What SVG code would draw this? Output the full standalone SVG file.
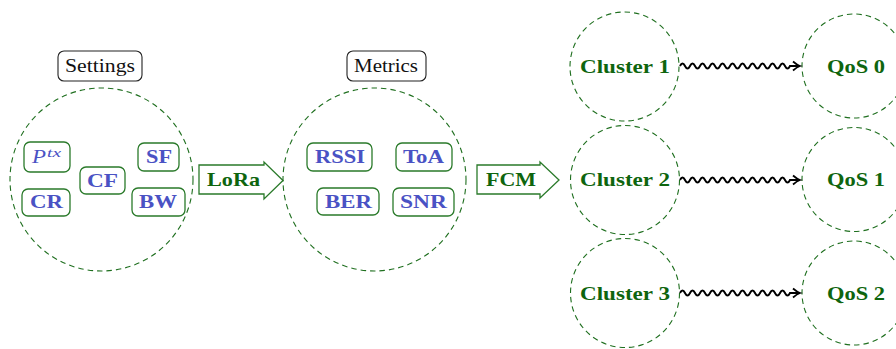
<svg xmlns="http://www.w3.org/2000/svg" width="896" height="349" viewBox="0 0 896 349">
<defs>
<style>
.dash{fill:none;stroke:#1f6f1f;stroke-width:1.1;stroke-dasharray:5.5 4}
.box{fill:#fff;stroke:#2a7a2a;stroke-width:1.3}
.lbl{fill:#fff;stroke:#222;stroke-width:1.1}
text{font-family:"Liberation Serif","DejaVu Serif",serif}
.g{font-weight:bold;font-size:19px;fill:#0e650e;text-anchor:middle}
.b{font-weight:bold;font-size:19px;fill:#4a52c4;text-anchor:middle}
.i{font-style:italic;fill:#4a52c4}
.k{font-size:19px;fill:#111;text-anchor:middle}
.w{fill:none;stroke:#000;stroke-width:2;marker-end:url(#ah)}
.arr{fill:#fff;stroke:#2a7a2a;stroke-width:1.3}
</style>
<marker id="ah" markerUnits="userSpaceOnUse" markerWidth="14" markerHeight="14" viewBox="-8 -7 14 14" refX="0" refY="0" orient="auto">
<path d="M-6,-4.5 Q-2,-1 1,0 Q-2,1 -6,4.5" fill="none" stroke="#000" stroke-width="1.8"/>
</marker>
</defs>
<rect width="896" height="349" fill="#fff"/>

<g id="settings">
<rect class="lbl" x="58" y="51" width="84" height="30" rx="6"/>
<text class="k" x="100" y="72" textLength="70" lengthAdjust="spacingAndGlyphs">Settings</text>
<circle class="dash" cx="101.5" cy="179.5" r="91.5"/>
</g>
<g id="ptx">
<rect class="box" x="24" y="142" width="46" height="30" rx="6"/>
<text class="i" x="32" y="163" font-size="19" textLength="14" lengthAdjust="spacingAndGlyphs">P</text>
<text class="i" x="47" y="157" font-size="13.5" textLength="14" lengthAdjust="spacingAndGlyphs">tx</text>
</g>
<g id="cf">
<rect class="box" x="80" y="167" width="45" height="27" rx="6"/>
<text class="b" x="102.5" y="187" textLength="31" lengthAdjust="spacingAndGlyphs">CF</text>
</g>
<g id="sf">
<rect class="box" x="138" y="143" width="41" height="28" rx="6"/>
<text class="b" x="159" y="163" textLength="26" lengthAdjust="spacingAndGlyphs">SF</text>
</g>
<g id="cr">
<rect class="box" x="22" y="189" width="48" height="27" rx="6"/>
<text class="b" x="46.5" y="208" textLength="33" lengthAdjust="spacingAndGlyphs">CR</text>
</g>
<g id="bw">
<rect class="box" x="132" y="188" width="53" height="28" rx="6"/>
<text class="b" x="158" y="208" textLength="38" lengthAdjust="spacingAndGlyphs">BW</text>
</g>

<g id="lora">
<polygon class="arr" points="199,165 264,165 264,162 283,180.5 264,199 264,194 199,194"/>
<text class="g" x="233.5" y="186" textLength="53" lengthAdjust="spacingAndGlyphs">LoRa</text>
</g>

<g id="metrics">
<rect class="lbl" x="347" y="51" width="79" height="30" rx="6"/>
<text class="k" x="386" y="72" textLength="64" lengthAdjust="spacingAndGlyphs">Metrics</text>
<circle class="dash" cx="374.5" cy="179.5" r="91.5"/>
</g>
<g id="rssi">
<rect class="box" x="307" y="143" width="65" height="28" rx="6"/>
<text class="b" x="340" y="163" textLength="50" lengthAdjust="spacingAndGlyphs">RSSI</text>
</g>
<g id="toa">
<rect class="box" x="396" y="143" width="56" height="28" rx="6"/>
<text class="b" x="423.5" y="163" textLength="41" lengthAdjust="spacingAndGlyphs">ToA</text>
</g>
<g id="ber">
<rect class="box" x="317" y="188" width="62" height="27" rx="6"/>
<text class="b" x="348.5" y="208" textLength="47" lengthAdjust="spacingAndGlyphs">BER</text>
</g>
<g id="snr">
<rect class="box" x="393" y="188" width="61" height="28" rx="6"/>
<text class="b" x="423.5" y="208" textLength="47" lengthAdjust="spacingAndGlyphs">SNR</text>
</g>

<g id="fcm">
<polygon class="arr" points="477,165 540,165 540,162 559,180 540,198 540,194 477,194"/>
<text class="g" x="511" y="186" textLength="50" lengthAdjust="spacingAndGlyphs">FCM</text>
</g>

<g id="cluster1">
<circle class="dash" cx="624.5" cy="66.5" r="54.5"/>
<text class="g" x="625" y="73" textLength="90" lengthAdjust="spacingAndGlyphs">Cluster 1</text>
</g>
<g id="cluster2">
<circle class="dash" cx="625" cy="180" r="54.5"/>
<text class="g" x="625" y="186" textLength="90" lengthAdjust="spacingAndGlyphs">Cluster 2</text>
</g>
<g id="cluster3">
<circle class="dash" cx="625" cy="293" r="54.5"/>
<text class="g" x="625" y="300" textLength="90" lengthAdjust="spacingAndGlyphs">Cluster 3</text>
</g>
<g id="qos0">
<circle class="dash" cx="854" cy="66" r="52"/>
<text class="g" x="856" y="73" textLength="58" lengthAdjust="spacingAndGlyphs">QoS 0</text>
</g>
<g id="qos1">
<circle class="dash" cx="854" cy="179.5" r="52"/>
<text class="g" x="856" y="186" textLength="58" lengthAdjust="spacingAndGlyphs">QoS 1</text>
</g>
<g id="qos2">
<circle class="dash" cx="854" cy="293" r="52"/>
<text class="g" x="856" y="300" textLength="58" lengthAdjust="spacingAndGlyphs">QoS 2</text>
</g>

<g id="connectors">
<path class="w" d="M680,66 q2.5,-5 5,0 t5,0 t5,0 t5,0 t5,0 t5,0 t5,0 t5,0 t5,0 t5,0 t5,0 t5,0 t5,0 t5,0 t5,0 t5,0 t5,0 t5,0 t5,0 t5,0 t5,0 t5,0 l9,0"/>
<path class="w" d="M680,180 q2.5,-5 5,0 t5,0 t5,0 t5,0 t5,0 t5,0 t5,0 t5,0 t5,0 t5,0 t5,0 t5,0 t5,0 t5,0 t5,0 t5,0 t5,0 t5,0 t5,0 t5,0 t5,0 t5,0 l9,0"/>
<path class="w" d="M680,293 q2.5,-5 5,0 t5,0 t5,0 t5,0 t5,0 t5,0 t5,0 t5,0 t5,0 t5,0 t5,0 t5,0 t5,0 t5,0 t5,0 t5,0 t5,0 t5,0 t5,0 t5,0 t5,0 t5,0 l9,0"/>
</g>
</svg>
